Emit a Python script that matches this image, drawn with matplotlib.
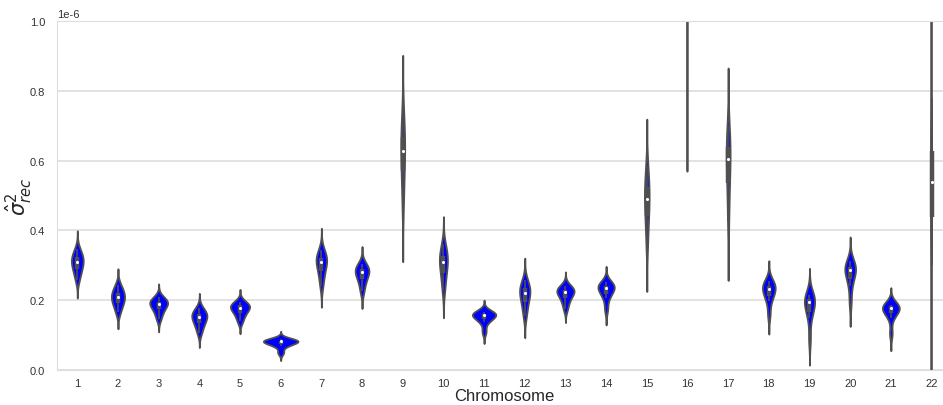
import numpy as np
import pandas as pd
import matplotlib
matplotlib.use('Agg')
import matplotlib.pyplot as plt
import seaborn as sns

# Chromosome labels
chromosomes = [str(c) for c in range(1, 23)]

# Nine sample values per chromosome (units of 1e-6), sorted low to high,
# read off the violins as rough quantiles
s1 = [0.259, 0.165, 0.147, 0.107, 0.139, 0.050, 0.242, 0.225, 0.472, 0.229, 0.110,
      0.155, 0.176, 0.175, 0.360, 1.131, 0.424, 0.160, 0.090, 0.195, 0.105, 0.020]
s2 = [0.278, 0.182, 0.164, 0.124, 0.154, 0.068, 0.268, 0.247, 0.532, 0.260, 0.137,
      0.180, 0.195, 0.206, 0.411, 1.314, 0.494, 0.198, 0.150, 0.240, 0.150, 0.300]
s3 = [0.290, 0.192, 0.174, 0.135, 0.164, 0.074, 0.284, 0.260, 0.569, 0.279, 0.145,
      0.196, 0.206, 0.217, 0.442, 1.426, 0.537, 0.211, 0.167, 0.262, 0.162, 0.438]
s4 = [0.300, 0.200, 0.182, 0.143, 0.171, 0.078, 0.297, 0.270, 0.600, 0.295, 0.152,
      0.209, 0.215, 0.227, 0.467, 1.517, 0.572, 0.222, 0.181, 0.275, 0.171, 0.490]
s5 = [0.309, 0.208, 0.189, 0.151, 0.178, 0.082, 0.309, 0.280, 0.627, 0.309, 0.158,
      0.220, 0.223, 0.235, 0.490, 1.600, 0.604, 0.232, 0.194, 0.286, 0.177, 0.538]
s6 = [0.316, 0.214, 0.193, 0.156, 0.181, 0.083, 0.315, 0.284, 0.647, 0.318, 0.159,
      0.227, 0.226, 0.238, 0.507, 1.683, 0.621, 0.236, 0.199, 0.290, 0.180, 0.580]
s7 = [0.323, 0.221, 0.196, 0.161, 0.185, 0.084, 0.322, 0.289, 0.669, 0.328, 0.161,
      0.234, 0.230, 0.241, 0.525, 1.774, 0.639, 0.241, 0.204, 0.295, 0.182, 0.628]
s8 = [0.332, 0.230, 0.201, 0.167, 0.189, 0.086, 0.330, 0.295, 0.696, 0.340, 0.163,
      0.243, 0.234, 0.245, 0.547, 1.886, 0.662, 0.247, 0.210, 0.302, 0.184, 0.780]
s9 = [0.346, 0.243, 0.209, 0.177, 0.196, 0.088, 0.344, 0.305, 0.740, 0.360, 0.166,
      0.258, 0.241, 0.251, 0.584, 2.069, 0.698, 0.256, 0.215, 0.311, 0.186, 1.050]

samples = [s1, s2, s3, s4, s5, s6, s7, s8, s9]

rows = []
for level in samples:
    for chrom, v in zip(chromosomes, level):
        rows.append({'Chromosome': chrom, 'value': v * 1e-6})
df = pd.DataFrame(rows)

sns.set_style('whitegrid', {'grid.color': '#dddddd', 'axes.edgecolor': '#dddddd'})
plt.rcParams['font.family'] = ['Liberation Sans', 'DejaVu Sans']
plt.rcParams['axes.unicode_minus'] = False
plt.rcParams['grid.linewidth'] = 1.2

fig = plt.figure(figsize=(9.43, 4.06), dpi=100)
ax = fig.add_axes([0.0604, 0.0862, 0.949, 0.8596])

line_gray = '#505050'
sns.violinplot(data=df, x='Chromosome', y='value', order=chromosomes,
               color='blue', saturation=1, inner=None, cut=3,
               linewidth=1.3, linecolor=line_gray, density_norm='area',
               width=0.85, ax=ax)

# inner box: whiskers, quartile box, median dot
for i, chrom in enumerate(chromosomes):
    vals = df.loc[df['Chromosome'] == chrom, 'value'].values
    q1, med, q3 = np.percentile(vals, [25, 50, 75])
    iqr = q3 - q1
    lo = vals[vals >= q1 - 1.5 * iqr].min()
    hi = vals[vals <= q3 + 1.5 * iqr].max()
    ax.plot([i, i], [lo, hi], color=line_gray, lw=1.2, solid_capstyle='butt', zorder=3)
    ax.plot([i, i], [q1, q3], color=line_gray, lw=3.2, solid_capstyle='butt', zorder=3)
    ax.scatter([i], [med], s=5, color='white', zorder=4, linewidths=0)

ax.set_ylim(0, 1e-6)
ax.set_xlim(-0.5, 21.5)
ax.set_xlabel('Chromosome', fontsize=12, labelpad=0)
ax.set_ylabel(r'$\hat{\sigma}^2_{rec}$', fontsize=15)
ax.yaxis.set_label_coords(-0.024, 0.5)
ax.tick_params(axis='both', labelsize=8, colors='#333333')
ax.tick_params(axis='x', pad=2.5)
ax.tick_params(axis='y', pad=5)
ax.yaxis.get_offset_text().set_fontsize(8)
ax.yaxis.get_offset_text().set_color('#333333')

fig.savefig('out.png', dpi=100)
